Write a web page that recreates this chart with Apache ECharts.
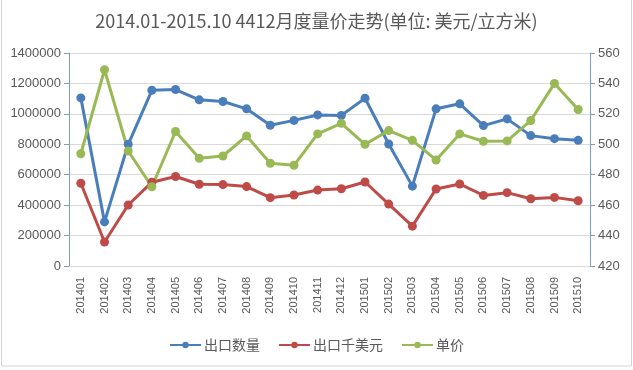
<!DOCTYPE html>
<html><head><meta charset="utf-8">
<script src="https://cdn.jsdelivr.net/npm/echarts@6/dist/echarts.min.js"></script>
<style>html,body{margin:0;padding:0;background:#fff}#c{width:633px;height:370px}</style>
</head><body><div id="c"></div>
<script>
const categories = ['201401','201402','201403','201404','201405','201406','201407','201408','201409','201410','201411','201412','201501','201502','201503','201504','201505','201506','201507','201508','201509','201510'];
const exportQty = [1105000,290000,800000,1155000,1160000,1092000,1081000,1033000,925000,957000,993000,990000,1103000,802000,525000,1033000,1066000,923000,967000,857000,837000,826000];
const exportValue = [544000,158000,401000,551000,588000,537000,535000,522000,449000,467000,499000,508000,552000,407000,262000,506000,539000,464000,482000,442000,451000,429000];
const unitPrice = [493.8,549.0,495.6,472.1,508.4,490.8,492.3,505.5,487.5,486.2,506.8,513.8,500.0,509.0,502.6,489.7,506.8,502.0,502.2,515.6,540.0,522.9];
const seriesNames = ['出口数量','出口千美元','单价'];
const colors = ['#4A7EBB','#BE4B48','#98B954'];
const txt = '#595959';
const chart = echarts.init(document.getElementById('c'));
function line(name, data, color, yIdx){
  return {name, type:'line', data, yAxisIndex:yIdx, symbol:'circle', symbolSize:9,
    lineStyle:{width:3,color}, itemStyle:{color}, animation:false};
}
chart.setOption({
  animation:false,
  graphic:[{type:'rect', shape:{x:1.5,y:-5,width:630,height:371}, style:{fill:'none',stroke:'#D4D4D4',lineWidth:1}, silent:true}],
  title:{text:'2014.01-2015.10 4412月度量价走势(单位: 美元/立方米)', left:'center', top:7,
    textStyle:{fontSize:18,fontWeight:'normal',color:txt,fontFamily:'"Noto Sans CJK SC", sans-serif'}},
  legend:{top:333, left:'center', itemWidth:31, itemHeight:8, itemGap:18,
    textStyle:{fontSize:14,color:txt,padding:[0,0,0,-2],fontFamily:'"Noto Sans CJK SC", sans-serif'},
    data:seriesNames},
  grid:{left:69, right:43, top:53, bottom:104},
  xAxis:{type:'category', data:categories, boundaryGap:true,
    axisLine:{show:true,lineStyle:{color:'#D9D9D9'}}, axisTick:{show:false},
    axisLabel:{rotate:90, interval:0, fontSize:11, color:txt, margin:11, fontFamily:'"Liberation Sans", sans-serif'}},
  yAxis:[
    {type:'value', min:0, max:1400000, interval:200000,
     axisLine:{show:true,lineStyle:{color:'#7F9DC0'}}, axisTick:{show:true,length:5,lineStyle:{color:'#7F9DC0'}},
     splitLine:{lineStyle:{color:'#D9D9D9'}},
     axisLabel:{fontSize:13,color:txt,margin:8,formatter:v=>String(v),fontFamily:'"Liberation Sans", sans-serif'}},
    {type:'value', min:420, max:560, interval:20, position:'right',
     axisLine:{show:true,lineStyle:{color:'#7F9DC0'}}, axisTick:{show:true,length:5,lineStyle:{color:'#7F9DC0'}},
     splitLine:{show:false},
     axisLabel:{fontSize:13,color:txt,margin:8,formatter:v=>String(v),fontFamily:'"Liberation Sans", sans-serif'}}
  ],
  series:[
    line(seriesNames[0], exportQty, colors[0], 0),
    line(seriesNames[1], exportValue, colors[1], 0),
    line(seriesNames[2], unitPrice, colors[2], 1)
  ]
});
</script></body></html>
